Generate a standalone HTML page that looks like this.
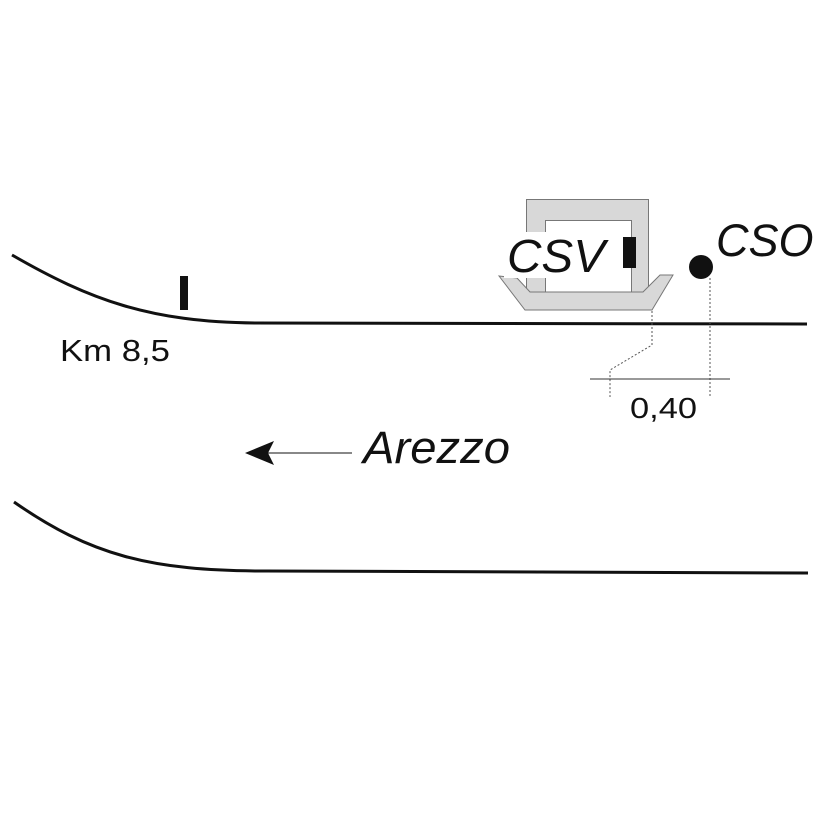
<!DOCTYPE html>
<html><head><style>
html,body{margin:0;padding:0;background:#fff;}
svg{display:block;}
text{font-family:"Liberation Sans",Arial,sans-serif;fill:#111;}
</style></head><body>
<svg width="827" height="827" viewBox="0 0 827 827" xmlns="http://www.w3.org/2000/svg">
<!-- top road -->
<path d="M12,255 C90,300 150,322 255,323 L807,324" fill="none" stroke="#111" stroke-width="3"/>
<rect x="180" y="276" width="8" height="34" fill="#111"/>
<text x="60" y="361" font-size="31" textLength="110" lengthAdjust="spacingAndGlyphs">Km 8,5</text>
<!-- bottom road -->
<path d="M14,502 C90,555 150,571 265,571 L808,573" fill="none" stroke="#111" stroke-width="3"/>
<!-- CSV building -->
<rect x="526.5" y="199.5" width="122" height="93" fill="#d8d8d8" stroke="#777" stroke-width="1"/>
<rect x="545.5" y="220.5" width="86" height="72" fill="#fff" stroke="#777" stroke-width="1"/>
<polygon points="499,276 525,310 652,310 673,275 660,275 643,292 530,292 517,278" fill="#d8d8d8" stroke="#777" stroke-width="1"/>
<rect x="504" y="232" width="104" height="46" fill="#fff"/>
<text x="507" y="272" font-size="46" font-style="italic" textLength="98" lengthAdjust="spacingAndGlyphs">CSV</text>
<rect x="623" y="237" width="13" height="31" fill="#111"/>
<!-- CSO -->
<circle cx="701" cy="267" r="12" fill="#111"/>
<text x="716" y="256" font-size="45" font-style="italic">CSO</text>
<!-- dimensions -->
<path d="M652,311 L652,345 L610,370 L610,397" fill="none" stroke="#555" stroke-width="1" stroke-dasharray="2,2"/>
<path d="M710,278 L710,397" fill="none" stroke="#555" stroke-width="1" stroke-dasharray="2,2"/>
<line x1="590" y1="379" x2="730" y2="379" stroke="#333" stroke-width="1"/>
<text x="630" y="418" font-size="29" textLength="67" lengthAdjust="spacingAndGlyphs">0,40</text>
<!-- arrow -->
<line x1="268" y1="453" x2="352" y2="453" stroke="#111" stroke-width="1"/>
<polygon points="245,453 274,441 268,453 274,465" fill="#111"/>
<text x="363" y="463" font-size="45" font-style="italic" textLength="147" lengthAdjust="spacingAndGlyphs">Arezzo</text>
</svg>
</body></html>
